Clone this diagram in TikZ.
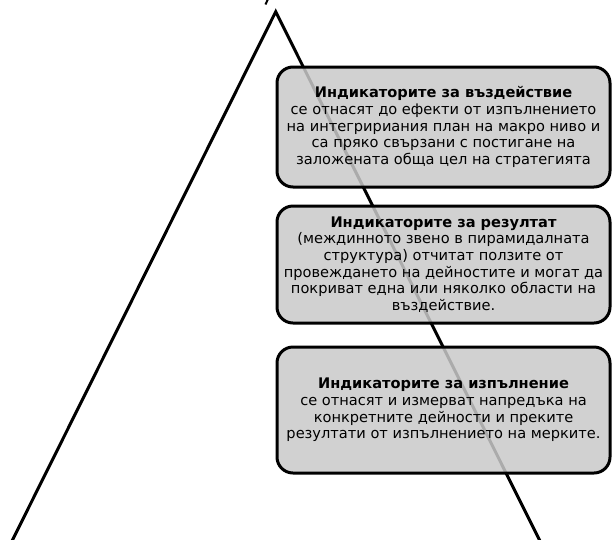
\documentclass[tikz,border=0pt]{standalone}
\usepackage{fontspec}
\setmainfont{DejaVu Sans}
\usetikzlibrary{positioning}

\begin{document}
\begin{tikzpicture}[x=1pt,y=-1pt]
\tikzset{
  edge/.style={black, line width=3pt},
  infobox/.style={draw=black, line width=3pt, rounded corners=16pt,
    fill=gray!42, fill opacity=0.85, text opacity=1,
    minimum width=333pt, align=center, inner sep=0pt,
    font=\fontsize{14.6}{16.7}\selectfont},
}
\useasboundingbox (0,0) rectangle (613,539);
% pyramid sides
\coordinate (apex) at (275.7,11.7);
\coordinate (baseL) at (12,541);
\coordinate (baseR) at (540,541);
\coordinate (tickA) at (268,-1);
\coordinate (tickB) at (265.5,4.5);
\draw [edge] (baseL) -- (apex) -- (baseR);
\draw [black, line width=2pt] (tickA) -- (tickB);
% indicator boxes
\node [infobox, minimum height=120pt] (impact) at (443.5,127)
  {\textbf{Индикаторите за въздействие}\\
   се отнасят до ефекти от изпълнението\\
   на интегририания план на макро ниво и\\
   са пряко свързани с постигане на\\
   заложената обща цел на стратегията};
\node [infobox, minimum height=117pt] (result) at (443.5,264.5)
  {\textbf{Индикаторите за резултат}\\
   (междинното звено в пирамидалната\\
   структура) отчитат ползите от\\
   провеждането на дейностите и могат да\\
   покриват една или няколко области на\\
   въздействие.};
\node [infobox, minimum height=126pt] (output) at (443.5,410)
  {\textbf{Индикаторите за изпълнение}\\
   се отнасят и измерват напредъка на\\
   конкретните дейности и преките\\
   резултати от изпълнението на мерките.};
\end{tikzpicture}
\end{document}
